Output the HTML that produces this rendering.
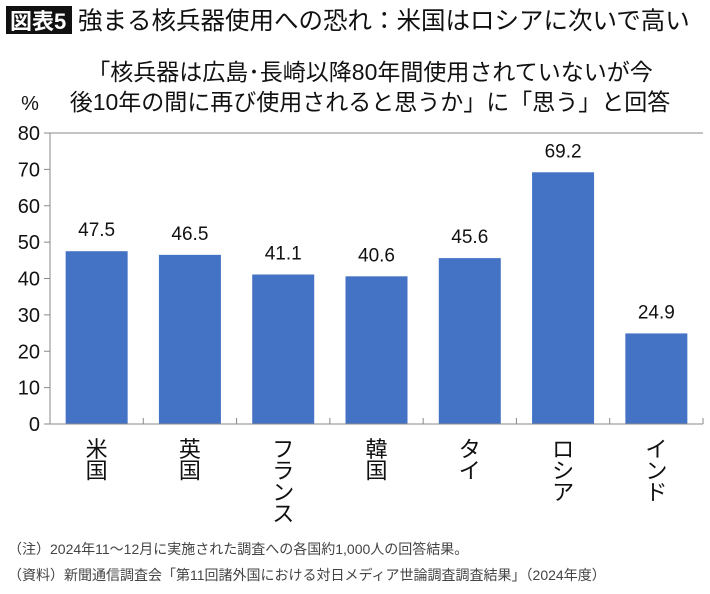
<!DOCTYPE html>
<html><head><meta charset="utf-8"><style>
body{margin:0;background:#fff;width:710px;height:589px;overflow:hidden;font-family:"Liberation Sans","Noto Sans CJK JP",sans-serif}
svg text{font-family:"Liberation Sans","Noto Sans CJK JP",sans-serif}
</style></head><body>
<svg width="710" height="589">
<rect x="6" y="6" width="66" height="28" fill="#111"/>
<text x="10" y="29" font-size="22" font-weight="bold" fill="#fff">図表5</text>
<text x="78" y="29" font-size="24.5" fill="#111">強まる核兵器使用への恐れ：米国はロシアに次いで高い</text>
<text x="370" y="80" font-size="23" text-anchor="middle" fill="#111">「核兵器は広島･長崎以降80年間使用されていないが今</text>
<text x="370" y="110" font-size="23" text-anchor="middle" fill="#111">後10年の間に再び使用されると思うか」に「思う」と回答</text>
<text x="30" y="110" font-size="20" text-anchor="middle" fill="#111">%</text>
<g id="plot"></g>
<text x="8" y="554" font-size="14" fill="#444">（注）2024年11～12月に実施された調査への各国約1,000人の回答結果。</text>
<text x="8" y="580" font-size="14" fill="#444">（資料）新聞通信調査会「第11回諸外国における対日メディア世論調査調査結果」（2024年度）</text>
</svg>
<script>
const categories=["米国","英国","フランス","韓国","タイ","ロシア","インド"];
const values=[47.5,46.5,41.1,40.6,45.6,69.2,24.9];
const yTicks=[0,10,20,30,40,50,60,70,80];
const NS="http://www.w3.org/2000/svg";
const plotG=document.getElementById("plot");
const x0=50,x1=703,y0=424,yTop=133,ymax=80;
const band=(x1-x0)/categories.length;
const yScale=v=>y0-(v/ymax)*(y0-yTop);
function mk(t,a){const e=document.createElementNS(NS,t);for(const k in a)e.setAttribute(k,a[k]);plotG.appendChild(e);return e;}
yTicks.forEach(t=>{
 const l=mk("line",{x1:x0-6,x2:x0,y1:yScale(t),y2:yScale(t),stroke:"#888"});
 
 
 const tx=mk("text",{x:x0-10,y:yScale(t)+7,"font-size":20,"text-anchor":"end",fill:"#111"});tx.textContent=t;
 
 
});
const topBorder=mk("line",{x1:x0,x2:x1,y1:yTop,y2:yTop,stroke:"#888"});


categories.forEach((c,i)=>{
 const cx=x0+band*(i+0.5),w=62;
 const r=mk("rect",{x:cx-w/2,y:yScale(values[i]),width:w,height:y0-yScale(values[i]),fill:"#4472c4"});
 
 
 const v=mk("text",{x:cx,y:yScale(values[i])-15,"font-size":19,"text-anchor":"middle",fill:"#111"});v.textContent=values[i].toFixed(1);
 
 
 const tk=mk("line",{x1:x0+band*(i+1),x2:x0+band*(i+1),y1:y0,y2:y0-6,stroke:"#888"});
 
 
 [...c].forEach((ch,j)=>{
  const t=mk("text",{x:cx,y:457+j*21.5,"font-size":22,"text-anchor":"middle",fill:"#111"});t.textContent=ch;
  
  
 });
});
const ya=mk("line",{x1:x0,x2:x0,y1:yTop,y2:y0,stroke:"#888"});


const xa=mk("line",{x1:x0-6,x2:x1,y1:y0,y2:y0,stroke:"#888"});


</script>
</body></html>
